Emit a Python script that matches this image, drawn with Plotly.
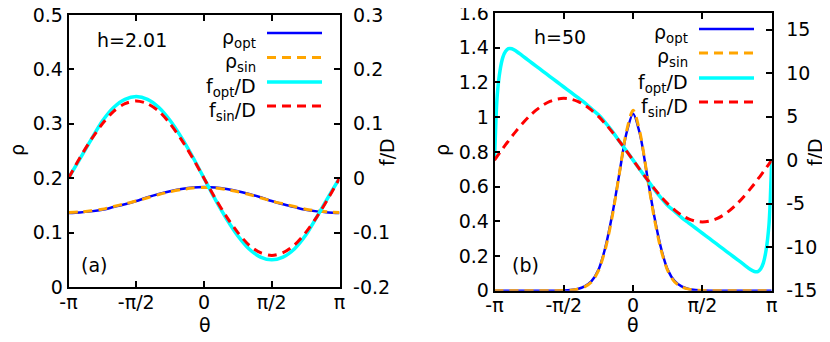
import plotly.graph_objects as go

# ---- data (theta in units of pi) ----
# panel (a): h=2.01
theta_a = [-1, -0.917, -0.833, -0.75, -0.667, -0.583, -0.5, -0.417, -0.333, -0.25, -0.167, -0.083, 0,
           0.083, 0.167, 0.25, 0.333, 0.417, 0.5, 0.583, 0.667, 0.75, 0.833, 0.917, 1]
rho_opt_a = [0.136, 0.137, 0.139, 0.142, 0.147, 0.152, 0.158, 0.165, 0.171, 0.176, 0.180, 0.183, 0.184,
             0.183, 0.180, 0.176, 0.171, 0.165, 0.158, 0.152, 0.147, 0.142, 0.139, 0.137, 0.136]
rho_sin_a = [0.137, 0.138, 0.140, 0.143, 0.148, 0.153, 0.158, 0.164, 0.170, 0.175, 0.179, 0.182, 0.183,
             0.182, 0.179, 0.175, 0.170, 0.164, 0.158, 0.153, 0.148, 0.143, 0.140, 0.138, 0.137]
f_opt_a = [0, 0.035, 0.071, 0.105, 0.130, 0.145, 0.150, 0.145, 0.130, 0.106, 0.075, 0.039, 0,
           -0.039, -0.075, -0.106, -0.130, -0.145, -0.150, -0.145, -0.130, -0.105, -0.071, -0.035, 0]
f_sin_a = [0, 0.037, 0.071, 0.100, 0.123, 0.137, 0.142, 0.137, 0.123, 0.100, 0.071, 0.037, 0,
           -0.037, -0.071, -0.100, -0.123, -0.137, -0.142, -0.137, -0.123, -0.100, -0.071, -0.037, 0]

# panel (b): h=50
theta_b = [-1, -0.99, -0.98, -0.96, -0.94, -0.92, -0.9, -0.875, -0.85, -0.8, -0.75, -0.7, -0.65,
           -0.6, -0.55, -0.5, -0.45, -0.4, -0.35, -0.3, -0.25, -0.2, -0.15, -0.1, -0.05, 0,
           0.05, 0.1, 0.15, 0.2, 0.25, 0.3, 0.35, 0.4, 0.45, 0.5, 0.55, 0.6, 0.65,
           0.7, 0.75, 0.8, 0.85, 0.875, 0.9, 0.92, 0.94, 0.96, 0.98, 0.99, 1]
rho_opt_b = [0, 0, 0, 0, 0, 0, 0, 0, 0, 0, 0, 0, 0,
             0, 0, 0.001, 0.004, 0.010, 0.025, 0.055, 0.12, 0.25, 0.44, 0.67, 0.90, 1.02,
             0.90, 0.67, 0.44, 0.25, 0.12, 0.055, 0.025, 0.010, 0.004, 0.001, 0, 0, 0,
             0, 0, 0, 0, 0, 0, 0, 0, 0, 0, 0, 0]
rho_sin_b = [0, 0, 0, 0, 0, 0, 0, 0, 0, 0, 0, 0, 0,
             0, 0, 0.001, 0.003, 0.009, 0.022, 0.050, 0.115, 0.24, 0.43, 0.67, 0.91, 1.04,
             0.91, 0.67, 0.43, 0.24, 0.115, 0.050, 0.022, 0.009, 0.003, 0.001, 0, 0, 0,
             0, 0, 0, 0, 0, 0, 0, 0, 0, 0, 0, 0]
f_opt_b = [0, 4.5, 7.5, 10.3, 11.8, 12.5, 12.8, 12.8, 12.6, 12.0, 11.4, 10.8, 10.2,
           9.6, 9.0, 8.4, 7.8, 7.2, 6.6, 5.9, 5.2, 4.3, 3.3, 2.2, 1.1, 0,
           -1.1, -2.2, -3.3, -4.3, -5.2, -5.9, -6.6, -7.2, -7.8, -8.4, -9.0, -9.6, -10.2,
           -10.8, -11.4, -12.0, -12.6, -12.8, -12.8, -12.5, -11.8, -10.3, -7.5, -4.5, 0]
f_sin_b = [0, 0.22, 0.45, 0.89, 1.33, 1.77, 2.19, 2.72, 3.22, 4.17, 5.02, 5.74, 6.33,
           6.75, 7.01, 7.1, 7.01, 6.75, 6.33, 5.74, 5.02, 4.17, 3.22, 2.19, 1.11, 0,
           -1.11, -2.19, -3.22, -4.17, -5.02, -5.74, -6.33, -6.75, -7.01, -7.1, -7.01, -6.75, -6.33,
           -5.74, -5.02, -4.17, -3.22, -2.72, -2.19, -1.77, -1.33, -0.89, -0.45, -0.22, 0]

xtick_vals = [-1, -0.5, 0, 0.5, 1]
xtick_text = ["-π", "-π/2", "0", "π/2", "π"]
ya_vals = [0, 0.1, 0.2, 0.3, 0.4, 0.5]
ya_text = ["0", "0.1", "0.2", "0.3", "0.4", "0.5"]
y2a_vals = [-0.2, -0.1, 0, 0.1, 0.2, 0.3]
y2a_text = ["-0.2", "-0.1", "0", "0.1", "0.2", "0.3"]
yb_vals = [0, 0.2, 0.4, 0.6, 0.8, 1.0, 1.2, 1.4, 1.6]
yb_text = ["0", "0.2", "0.4", "0.6", "0.8", "1", "1.2", "1.4", "1.6"]
y2b_vals = [-15, -10, -5, 0, 5, 10, 15]
y2b_text = ["-15", "-10", "-5", "0", "5", "10", "15"]

labels = ["ρ<sub>opt</sub>", "ρ<sub>sin</sub>", "f<sub>opt</sub>/D", "f<sub>sin</sub>/D"]
colors = ["#0000ff", "#ffa500", "#00ffff", "#ff0000"]
widths = [2.5, 3, 3.5, 3]
dashes = ["solid", "9px,6px", "solid", "9px,6px"]

W, H = 830, 342
OFF = 8  # page body margin shifts the figure by this many px
FONT = "DejaVu Sans, Arial, sans-serif"
FS = 19


def px(x):
    return (x - OFF) / W


def py(y):
    return 1 - (y - OFF) / H


fig = go.Figure()

panels = [
    (theta_a, [rho_opt_a, rho_sin_a, f_opt_a, f_sin_a], "x", "y", "y2"),
    (theta_b, [rho_opt_b, rho_sin_b, f_opt_b, f_sin_b], "x2", "y3", "y4"),
]
for th, series, xa, ya, y2a in panels:
    for i, s in enumerate(series):
        fig.add_trace(go.Scatter(
            x=th, y=s, mode="lines", xaxis=xa, yaxis=(ya if i < 2 else y2a),
            line=dict(color=colors[i], width=widths[i], dash=dashes[i], shape="spline", smoothing=0.8),
            showlegend=False, hoverinfo="skip"))

tickfont = dict(family=FONT, size=FS, color="black")
ax_common = dict(showgrid=False, zeroline=False, showline=True, linecolor="black", linewidth=1.5,
                 ticks="inside", ticklen=6, tickwidth=1.5, tickcolor="black", tickfont=tickfont,
                 automargin=False, ticklabeloverflow="allow")

dom_xa = [px(68.5), px(339.5)]
dom_ya = [py(287), py(15)]
dom_xb = [px(494.5), px(771.7)]
dom_yb = [py(290.7), py(13)]

fig.update_layout(
    template="none",
    width=W, height=H, margin=dict(l=0, r=0, t=0, b=0),
    paper_bgcolor="white", plot_bgcolor="white",
    font=dict(family=FONT, color="black", size=FS),
    xaxis=dict(domain=dom_xa, range=[-1, 1], anchor="y", mirror="ticks",
               tickvals=xtick_vals, ticktext=xtick_text, ticklabelstandoff=-3, **ax_common),
    yaxis=dict(domain=dom_ya, range=[0, 0.5], anchor="x", mirror=True,
               tickvals=ya_vals, ticktext=ya_text, ticklabelstandoff=0, **ax_common),
    yaxis2=dict(range=[-0.2, 0.3], overlaying="y", side="right", anchor="x",
                tickvals=y2a_vals, ticktext=y2a_text, ticklabelstandoff=8, **ax_common),
    xaxis2=dict(domain=dom_xb, range=[-1, 1], anchor="y3", mirror="ticks",
                tickvals=xtick_vals, ticktext=xtick_text, ticklabelstandoff=-3, **ax_common),
    yaxis3=dict(domain=dom_yb, range=[0, 1.6], anchor="x2", mirror=True,
                tickvals=yb_vals, ticktext=yb_text, ticklabelstandoff=0, **ax_common),
    yaxis4=dict(range=[-15, 16.9], overlaying="y3", side="right", anchor="x2",
                tickvals=y2b_vals, ticktext=y2b_text, ticklabelstandoff=9, **ax_common),
)

ann = []
shapes = []


def label(x, y, s, xanchor="center", **kw):
    ann.append(dict(x=px(x), y=py(y), xref="paper", yref="paper", text=s, showarrow=False,
                    xanchor=xanchor, yanchor="middle",
                    font=dict(family=FONT, size=FS, color="black"), **kw))


# panel texts
label(132, 40, "h=2.01")
label(560, 37, "h=50")
label(94, 265, "(a)")
label(525, 265, "(b)")
# axis titles
label(17, 150, "ρ", textangle=-90)
label(442, 150, "ρ", textangle=-90)
label(387, 152, "f/D", textangle=-90)
label(815, 152, "f/D", textangle=-90)
label(205, 325, "θ")
label(633, 325, "θ")

# key boxes (text right-aligned, sample line to its right)
for text_right, x0, x1, rows in [(258, 267, 322, [33, 57.5, 82, 106]),
                                 (690, 699, 754, [29, 53, 78, 102])]:
    for i, yy in enumerate(rows):
        label(text_right, yy + 5, labels[i], xanchor="right")
        shapes.append(dict(type="line", xref="paper", yref="paper", x0=px(x0), x1=px(x1),
                           y0=py(yy), y1=py(yy),
                           line=dict(color=colors[i], width=widths[i], dash=dashes[i])))

fig.update_layout(annotations=ann, shapes=shapes)

fig.write_html("out.html")
